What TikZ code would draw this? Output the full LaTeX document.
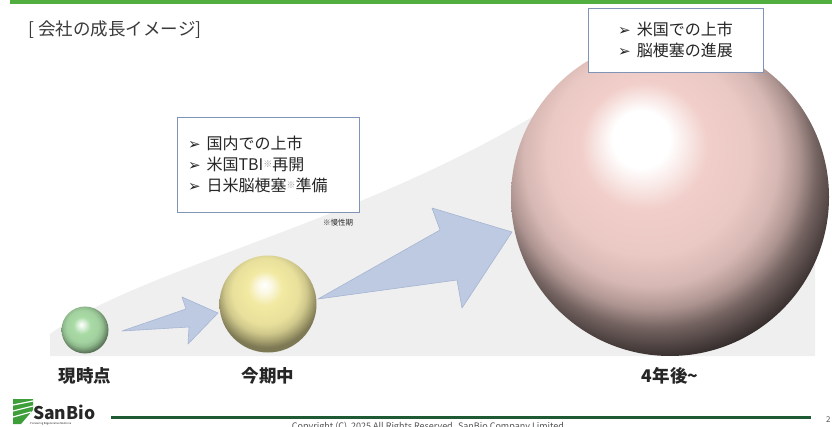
\documentclass[tikz,border=0pt]{standalone}
\usepackage{fontspec}
\setmainfont{Noto Sans CJK JP}
\newfontfamily\symfont{DejaVu Sans}
\usetikzlibrary{calc,positioning}
\definecolor{Ink}{HTML}{262626}
\definecolor{TitleInk}{HTML}{3A3A3A}
\definecolor{BarGreen}{HTML}{52AE3F}
\definecolor{FootGreen}{HTML}{1E5A34}
\definecolor{LogoGreen}{HTML}{3E9E3A}
\definecolor{WedgeGray}{HTML}{EFEFEF}
\definecolor{ArrowBlue}{HTML}{BECAE2}
\definecolor{ArrowEdge}{HTML}{A6B5D3}
\definecolor{BoxEdge}{HTML}{8094B8}
\definecolor{NoteGray}{HTML}{9A9A9A}
\definecolor{PinkBase}{HTML}{F1CEC9}
\definecolor{YellowBase}{HTML}{F2E9A2}
\definecolor{GreenBase}{HTML}{A9DBA6}
% circle rim sits near 25bp; the offset centre pushes the dark part to the lower right
\pgfdeclareradialshading{pinkball}{\pgfpoint{-5bp}{10bp}}{%
  color(0bp)=(white); color(4.5bp)=(white); color(10bp)=(PinkBase);
  color(16bp)=(PinkBase!97!black); color(20bp)=(PinkBase!89!black);
  color(23bp)=(PinkBase!72!black); color(25.5bp)=(PinkBase!48!black);
  color(29.5bp)=(PinkBase!22!black); color(50bp)=(PinkBase!18!black)}
\pgfdeclareradialshading{yellowball}{\pgfpoint{-2bp}{10bp}}{%
  color(0bp)=(white); color(3.5bp)=(YellowBase!30!white); color(9bp)=(YellowBase);
  color(17bp)=(YellowBase!96!black); color(21bp)=(YellowBase!86!black);
  color(24bp)=(YellowBase!70!black); color(27bp)=(YellowBase!52!black);
  color(50bp)=(YellowBase!45!black)}
\pgfdeclareradialshading{greenball}{\pgfpoint{-4bp}{6bp}}{%
  color(0bp)=(white); color(3.5bp)=(GreenBase!35!white); color(9bp)=(GreenBase);
  color(17bp)=(GreenBase!96!black); color(21bp)=(GreenBase!86!black);
  color(24bp)=(GreenBase!70!black); color(27bp)=(GreenBase!52!black);
  color(50bp)=(GreenBase!45!black)}
\newcommand{\bul}{{\symfont\fontsize{15}{15}\selectfont ➢}\hspace{6pt}}
\newcommand{\kome}{\textcolor{NoteGray}{\raisebox{3pt}{\fontsize{9}{9}\selectfont ※}}}
\tikzset{
  sphere/.style={circle,inner sep=0pt},
  stage/.style={font=\bfseries\fontsize{17.5}{19}\selectfont,text=Ink},
  notebox/.style={rectangle,draw=BoxEdge,fill=white,line width=0.9pt,
    font=\fontsize{16}{21}\selectfont,text=Ink,align=left},
  blockarrow/.style={fill=ArrowBlue,draw=ArrowEdge,line width=0.6pt,line join=round},
  wedge/.style={fill=WedgeGray}
}

\begin{document}
\begin{tikzpicture}[x=1pt,y=-1pt]
  \useasboundingbox (0,0) rectangle (832,427);
  \clip (0,0) rectangle (832,427);
  \fill[BarGreen] (10,0) rectangle (832,3.8);
  \node[anchor=west,text=TitleInk,font=\fontsize{17.5}{20}\selectfont] (title) at (25,30) {[ 会社の成長イメージ]};

  \fill[wedge] (50,356) -- (50,334) .. controls (150,262) and (400,215) .. (592,78)
    -- (815,150) -- (815,356) -- cycle;

  \node[sphere,minimum size=47pt,shading=greenball] (now) at (85,330) {};
  \node[sphere,minimum size=97pt,shading=yellowball] (term) at (268,304) {};
  \node[sphere,minimum size=318pt,shading=pinkball] (future) at (670,197) {};

  \draw[blockarrow] (122,331) -- (186,309) -- (182,297) -- (218,313) -- (188,344) -- (189,327) -- cycle;
  \draw[blockarrow] (318,299) -- (440,230) -- (432,208) -- (512,232) -- (462,308) -- (457,280) -- cycle;

  \node[notebox,text width=160pt,minimum height=95pt,inner xsep=11pt] (nearbox) at (268,164.5)
    {\bul 国内での上市\\ \bul 米国TBI\kome 再開\\ \bul 日米脳梗塞\kome 準備};
  \node[text=Ink,font=\fontsize{7.5}{8}\selectfont] (note) at (338,223) {※慢性期};
  \node[notebox,minimum width=175pt,minimum height=64pt,inner sep=0pt] (farbox) at (675.5,40)
    {\bul 米国での上市\\ \bul 脳梗塞の進展};

  \node[stage] (lblnow) at (85,376) {現時点};
  \node[stage] (lblterm) at (268,376) {今期中};
  \node[stage] (lblfuture) at (670,376) {4年後\string~};

  \fill[LogoGreen] (13,399) -- (33,399) -- (33,410) -- (21,424) -- (13,424) -- cycle;
  \draw[white,line width=1.2pt] (13,405) -- (33,401) (13,411) -- (33,406) (13,417) -- (31,412);
  \node[anchor=west,inner sep=0pt,text=Ink,font=\bfseries\fontsize{17.5}{18}\selectfont] (logo) at (33,412) {SanBio};
  \node[anchor=west,inner sep=0pt,text=Ink,font=\fontsize{2.6}{3}\selectfont] (tagline) at (30,424) {Pioneering Regenerative Medicine};
  \fill[FootGreen] (111,415.5) rectangle (811,419);
  \node[anchor=north,inner sep=0pt,text=Ink!80,font=\fontsize{9}{10}\selectfont] (copy) at (428,422)
    {Copyright (C)\ \ 2025 All Rights Reserved. SanBio Company Limited};
  \node[anchor=west,inner sep=0pt,text=Ink!80,font=\fontsize{8}{9}\selectfont] (page) at (826,420) {2};
\end{tikzpicture}
\end{document}
